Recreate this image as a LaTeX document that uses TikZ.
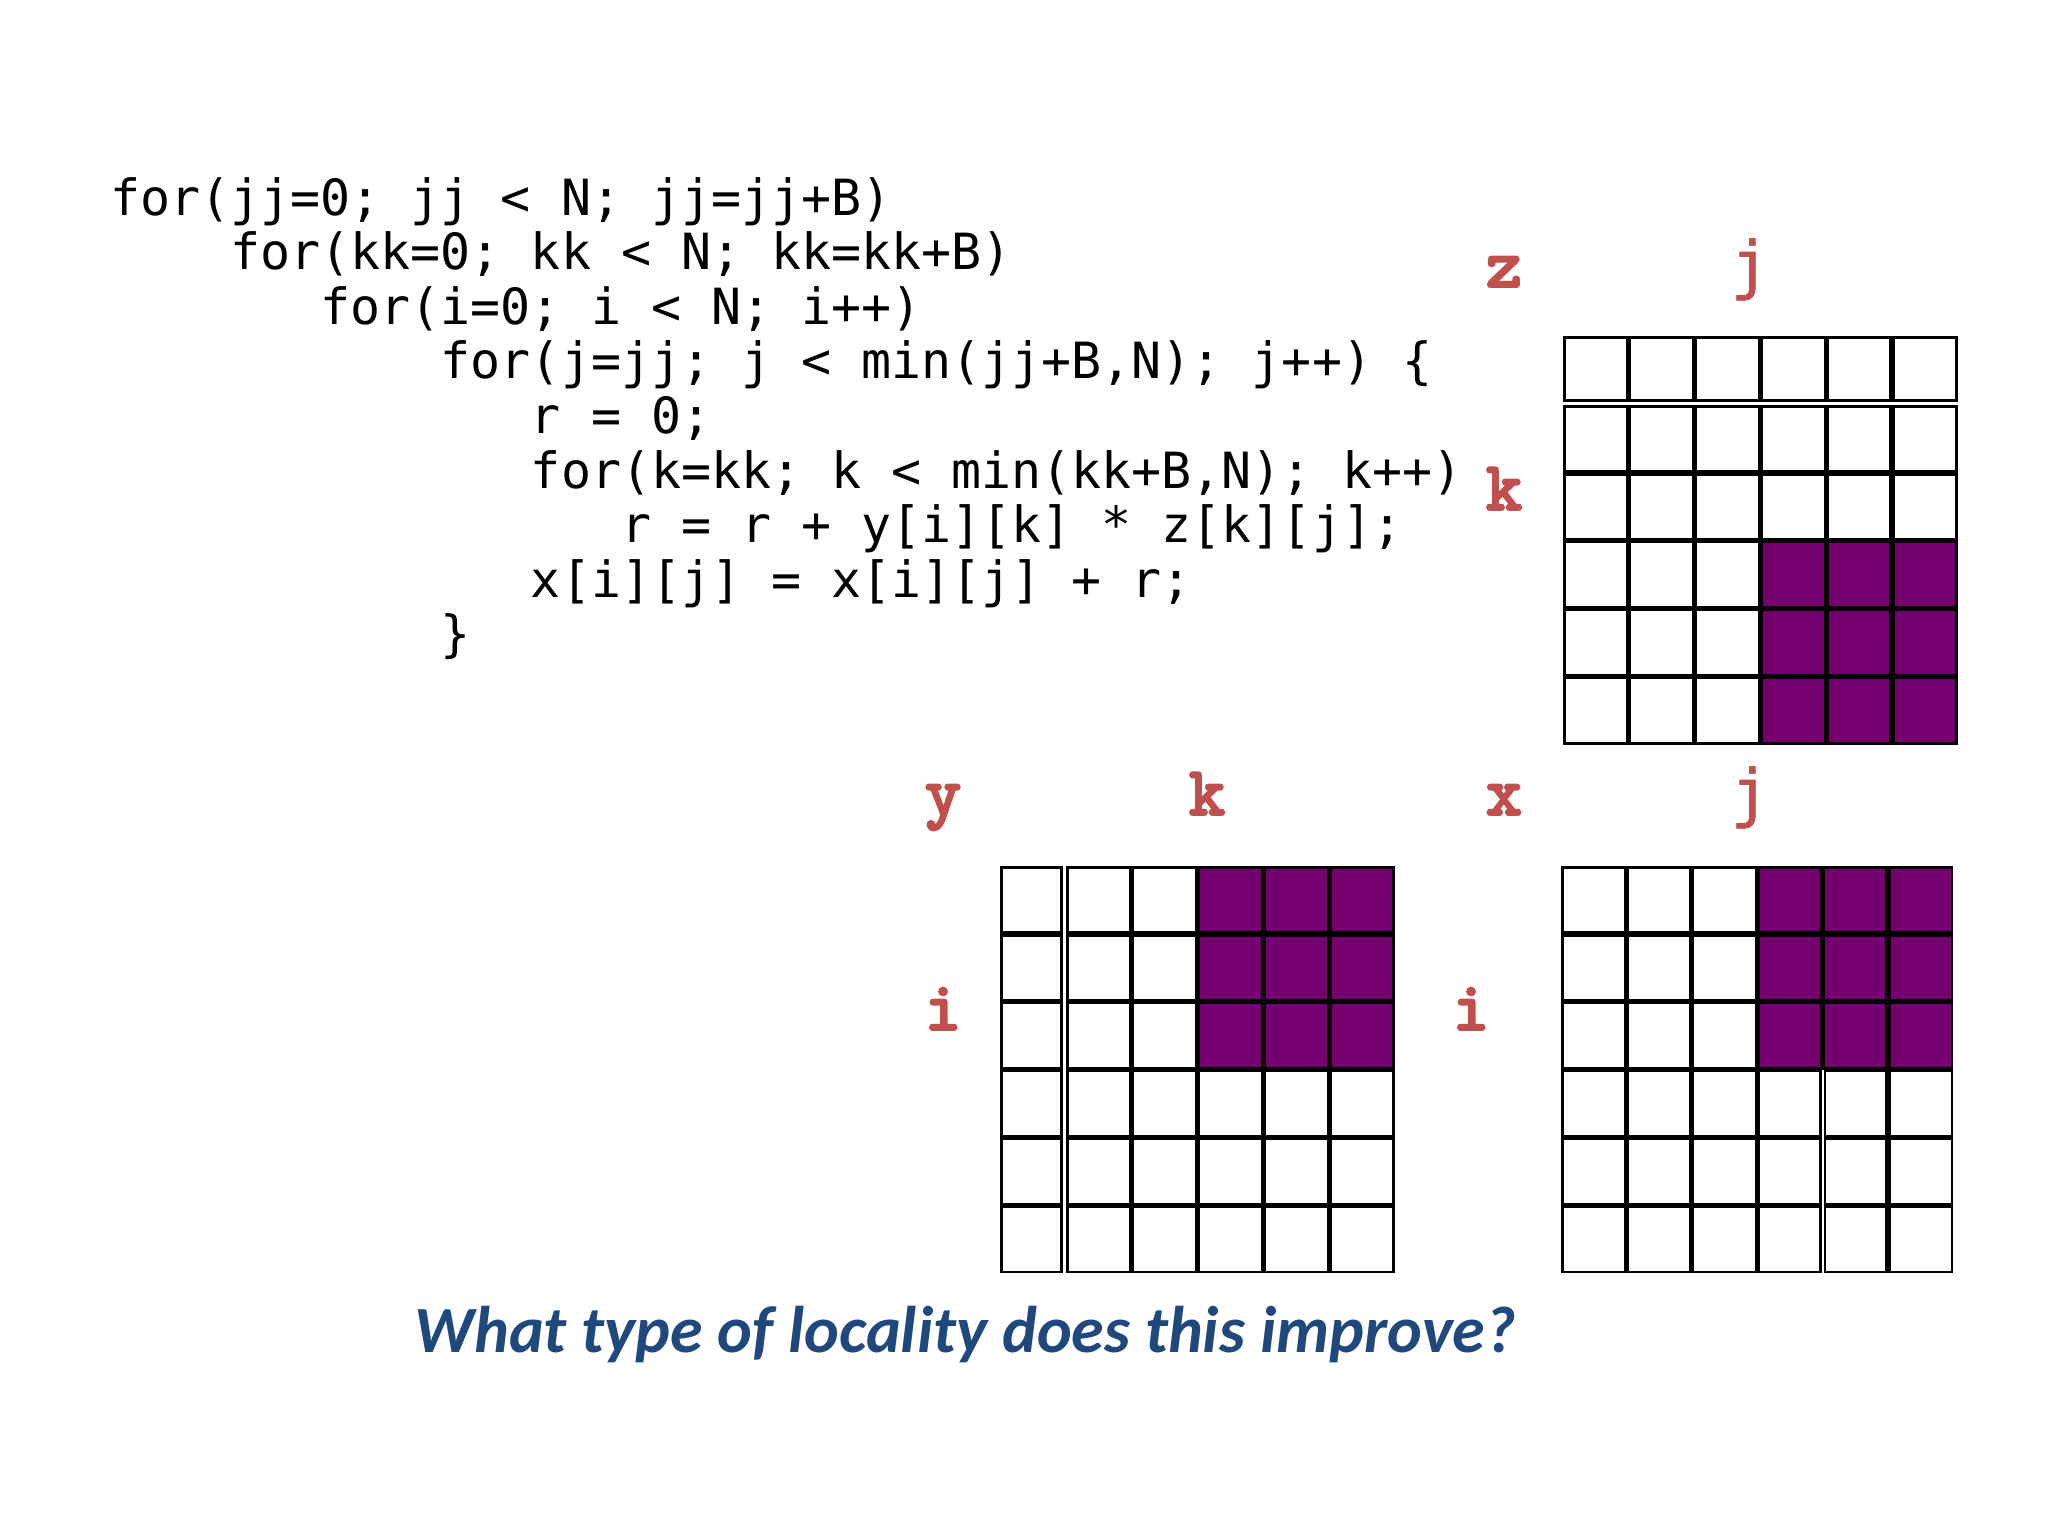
\documentclass[tikz,border=0pt]{standalone}
\usepackage{fontspec}
\newfontfamily\codefont{DejaVu Sans Mono}
\newfontfamily\labfont{lmmonolt10-bold.otf}[FakeBold=2.5]
\newfontfamily\jfont{DejaVu Sans Mono}[FakeBold=1]
\newfontfamily\qfont{Carlito}
\definecolor{labred}{RGB}{192,80,77}
\definecolor{cellpurple}{RGB}{117,0,112}
\definecolor{qblue}{RGB}{31,73,125}
\tikzset{
  codeline/.style={anchor=base west, inner sep=0pt, font=\codefont\fontsize{24.95pt}{30pt}\selectfont},
  axislab/.style={anchor=base, inner sep=0pt, text=labred, font=\labfont\fontsize{35pt}{40pt}\selectfont},
  axisj/.style={anchor=base, inner sep=0pt, text=labred, font=\jfont\fontsize{32pt}{36pt}\selectfont},
  cellbox/.style={draw=black, line width=1.3pt, fill=white},
  hotcell/.style={draw=black, line width=1.3pt, fill=cellpurple},
}
\begin{document}
\frenchspacing
\begin{tikzpicture}[x=0.5pt, y=-0.5pt]
\fill[white] (0,0) rectangle (2048,1536);
\useasboundingbox (0,0) rectangle (2048,1536);

% ---- code ----
\def\cw{30.04}
\node[codeline] (c1) at (110+0*\cw, 215)   {for(jj=0; jj < N; jj=jj+B)};
\node[codeline] (c2) at (110+4*\cw, 269.6) {for(kk=0; kk < N; kk=kk+B)};
\node[codeline] (c3) at (110+7*\cw, 324.2) {for(i=0; i < N; i++)};
\node[codeline] (c4) at (110+11*\cw, 378.8) {for(j=jj; j < min(jj+B,N); j++) \{};
\node[codeline] (c5) at (110+14*\cw, 433.4) {r = 0;};
\node[codeline] (c6) at (110+14*\cw, 488)   {for(k=kk; k < min(kk+B,N); k++)};
\node[codeline] (c7) at (110+17*\cw, 542.6) {r = r + y[i][k] * z[k][j];};
\node[codeline] (c8) at (110+14*\cw, 597.2) {x[i][j] = x[i][j] + r;};
\node[codeline] (c9) at (110+11*\cw, 651.8) {\}};

% ---- z grid ----
\foreach \c in {0,...,5}{
  \draw[cellbox] (1563+65.8*\c+1.3, 337.3) rectangle (1563+65.8*\c+65.8-1.3, 400.7);
  \foreach \r in {0,...,4}{
    \draw[cellbox] (1563+65.8*\c+1.3, 405+67.9*\r+1.3) rectangle (1563+65.8*\c+65.8-1.3, 405+67.9*\r+67.9-1.3);
  }
}
\foreach \c in {3,4,5}{
  \foreach \r in {2,3,4}{
    \draw[hotcell] (1563+65.8*\c+1.3, 405+67.9*\r+1.3) rectangle (1563+65.8*\c+65.8-1.3, 405+67.9*\r+67.9-1.3);
  }
}

% ---- y grid ----
\foreach \r in {0,...,5}{
  \draw[cellbox] (1001.3, 866+67.9*\r+1.3) rectangle (1061.7, 866+67.9*\r+67.9-1.3);
  \foreach \c in {0,...,4}{
    \draw[cellbox] (1066+65.8*\c+1.3, 866+67.9*\r+1.3) rectangle (1066+65.8*\c+65.8-1.3, 866+67.9*\r+67.9-1.3);
  }
}
\foreach \c in {2,3,4}{
  \foreach \r in {0,1,2}{
    \draw[hotcell] (1066+65.8*\c+1.3, 866+67.9*\r+1.3) rectangle (1066+65.8*\c+65.8-1.3, 866+67.9*\r+67.9-1.3);
  }
}

% ---- x grid ----
\foreach \r in {0,...,5}{
  \foreach \c in {0,1,2,5}{
    \draw[cellbox] (1561+65.4*\c+1.3, 866+67.9*\r+1.3) rectangle (1561+65.4*\c+65.4-1.3, 866+67.9*\r+67.9-1.3);
  }
}
\foreach \r in {0,1,2}{
  \foreach \c in {3,4,5}{
    \draw[hotcell] (1561+65.4*\c+1.3, 866+67.9*\r+1.3) rectangle (1561+65.4*\c+65.4-1.3, 866+67.9*\r+67.9-1.3);
  }
}
\foreach \r in {3,4,5}{
  \draw[cellbox] (1757.2+1.3, 866+67.9*\r+1.3) rectangle (1821.6-1.3, 866+67.9*\r+67.9-1.3);
  \draw[cellbox] (1823.6+1.3, 866+67.9*\r+1.3) rectangle (1888-1.3, 866+67.9*\r+67.9-1.3);
}

% ---- axis labels ----
\node[axislab] (zlab)  at (1504, 287) {z};
\node[axisj]   (zj)    at (1750, 287) {j};
\node[axislab] (zk)    at (1504, 510) {k};
\node[axislab] (ylab)  at (943, 815)  {y};
\node[axislab] (yk)    at (1207, 815) {k};
\node[axislab] (yi)    at (943, 1030) {i};
\node[axislab] (xlab)  at (1504, 815) {x};
\node[axisj]   (xj)    at (1750, 815) {j};
\node[axislab] (xi)    at (1471, 1030) {i};

% ---- question ----
\node[anchor=base west, inner sep=0pt, text=qblue,
      font=\qfont\bfseries\itshape\fontsize{33pt}{40pt}\selectfont] (q) at (414, 1352)
      {What type of locality does this improve?};
\end{tikzpicture}
\end{document}
